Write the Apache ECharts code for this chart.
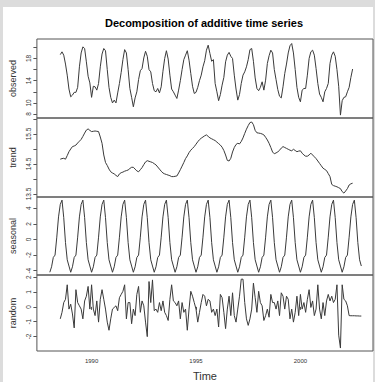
<!DOCTYPE html>
<html><head><meta charset="utf-8">
<script src="https://cdn.jsdelivr.net/npm/echarts@6/dist/echarts.min.js"></script>
<style>
html,body{margin:0;padding:0;background:#dcdcdc;width:375px;height:382px;overflow:hidden}
#paper{position:absolute;left:3px;top:7px;width:370px;height:375px;background:#fff}
#c{position:absolute;left:0;top:0;width:375px;height:382px}
</style>
</head><body><div id="paper"></div><div id="c"></div>
<script>
// ---- data (monthly series) ----
const title = 'Decomposition of additive time series';
const observedStart = [1988, 7];
const observed = [18.7,19.2,18.6,17.0,15.0,12.5,11.1,11.4,11.9,11.9,12.8,16.5,19.0,20.1,19.8,17.4,14.8,13.6,11.0,13.0,12.9,12.3,13.5,16.5,18.8,19.8,19.4,16.0,12.8,11.0,10.0,10.5,10.0,11.8,13.5,15.5,17.8,19.6,19.0,16.0,12.6,11.0,9.3,10.9,12.0,14.2,15.8,16.2,18.1,19.3,18.4,16.0,15.6,13.5,12.2,12.0,12.6,11.8,12.9,15.7,18.0,19.4,17.9,15.0,12.5,12.0,11.4,10.8,12.3,14.0,16.0,17.8,18.6,19.4,17.7,15.3,13.0,11.7,11.9,12.8,14.0,15.0,16.5,17.6,19.5,20.4,18.9,17.5,17.8,13.5,12.0,10.4,11.5,13.2,14.6,17.4,18.6,19.1,18.4,18.0,15.0,12.5,10.5,11.5,13.5,15.0,15.6,16.5,17.8,19.6,19.8,17.5,14.5,12.6,12.2,12.8,13.8,12.3,14.1,17.1,18.5,19.5,19.0,16.0,14.2,12.4,11.2,10.9,12.9,15.3,17.0,19.0,20.3,20.7,19.0,16.0,12.8,11.0,10.2,12.3,12.6,12.6,15.0,18.0,19.2,19.5,18.6,16.2,13.5,11.6,11.0,10.2,12.0,12.6,13.5,17.1,18.6,19.2,18.4,16.0,13.0,7.8,10.4,11.0,11.1,12.0,12.8,14.6,16.1];
const trendStart = [1988, 7];
const trend = [14.66,14.68,14.69,14.66,14.78,14.91,15.00,15.08,15.10,15.13,15.20,15.26,15.32,15.42,15.53,15.63,15.67,15.62,15.58,15.59,15.60,15.59,15.58,15.40,15.19,14.80,14.55,14.45,14.33,14.24,14.20,14.17,14.12,14.08,14.17,14.21,14.23,14.26,14.28,14.30,14.35,14.39,14.39,14.33,14.27,14.24,14.31,14.38,14.48,14.57,14.61,14.59,14.57,14.55,14.51,14.47,14.40,14.33,14.26,14.20,14.17,14.15,14.13,14.11,14.08,14.08,14.09,14.10,14.20,14.31,14.43,14.55,14.68,14.77,14.88,14.96,15.02,15.08,15.16,15.24,15.31,15.36,15.40,15.44,15.47,15.42,15.37,15.34,15.31,15.28,15.23,15.18,15.13,15.06,14.95,14.80,14.62,14.60,14.69,14.90,15.05,15.15,15.19,15.17,15.25,15.37,15.52,15.66,15.78,15.88,15.90,15.81,15.62,15.54,15.53,15.52,15.50,15.47,15.39,15.30,15.19,15.05,14.90,14.84,14.87,14.90,14.96,15.03,15.08,15.05,15.02,14.99,14.96,14.94,14.99,14.95,14.91,14.93,14.94,14.86,14.80,14.76,14.76,14.80,14.86,14.80,14.74,14.68,14.60,14.52,14.44,14.36,14.32,14.28,14.18,14.08,13.82,13.78,13.76,13.74,13.71,13.68,13.58,13.53,13.60,13.68,13.80,13.84,13.86];
const seasonalStart = [1988, 1];
const seasonalPattern = [-4.2,-3.5,-2.3,-2.0,0.3,2.9,4.5,5.05,2.8,-0.4,-2.6,-3.4]; // Jan..Dec, same every year
const seasonalYears = 15;
const randomStart = [1988, 7];
const random = [-0.81,-0.37,0.29,0.51,1.49,-0.15,0.18,
 -0.48,-1.42,1.16,0.29,0.07,-0.15,-0.81,0.40,0.72,1.38,-0.15,1.49,-0.15,-0.59,0.40,-1.03,0.51,
 1.16,0.51,-0.15,-1.03,-1.58,-0.81,-0.15,-0.04,0.07,-0.26,0.62,0.84,1.05,1.49,-0.81,0.29,0.29,-1.14,-0.15,
 -0.59,0.84,1.38,-0.37,0.40,0.07,-1.03,-2.01,1.71,0.29,1.82,-0.26,-0.15,-0.37,0.29,-0.26,0.40,-0.37,
 -0.59,-0.92,0.51,1.49,0.40,0.29,0.07,0.40,-0.81,0.29,-0.37,-0.15,-1.58,-0.15,1.05,0.72,0.29,-0.15,-1.03,-0.37,0.29,0.84,0.72,0.07,0.51,
 0.40,-0.37,-0.15,-0.59,-0.15,-1.36,0.84,0.62,-0.37,-1.47,-0.15,0.72,-0.59,0.95,-0.59,-1.03,-0.15,0.72,1.87,1.87,0.29,-0.81,-1.25,-0.81,-0.15,1.60,0.62,-0.37,
 1.05,0.29,0.07,-0.92,-0.59,-0.15,-0.70,0.84,0.29,0.29,-0.15,0.40,-0.59,0.95,0.72,-0.15,0.72,0.51,
 -0.81,-0.15,-1.03,-0.37,0.72,-0.59,0.84,-0.15,0.29,-0.37,0.51,1.16,-0.04,0.40,-0.59,
 -0.15,1.49,-0.15,-0.81,0.29,-0.59,0.40,0.84,0.40,0.72,0.29,0.51,1.49,-1.91,-2.78,1.49,0.51,0.40,0.07,-0.59,
 -0.60,-0.60,-0.60,-0.61,-0.61,-0.62,-0.62];
const xTicks = [1990, 1995, 2000];
const xLabel = 'Time';
const panelNames = ['observed', 'trend', 'seasonal', 'random'];
const obsTicks = [8,10,12,14,16,18,20], obsLabels = [8,10,14,18];
const trendTicks = [13.5,14,14.5,15,15.5,16], trendLabels = [13.5,14.5,15.5];
const seasTicks = [-4,-2,0,2,4];
const randTicks = [-2,-1,0,1,2];

// ---- build ----
const seasonal = [];
for (let y = 0; y < seasonalYears; y++) seasonal.push(...seasonalPattern);
function toPairs(start, values) {
  return values.map((v, i) => [start[0] + (start[1] - 1 + i) / 12, v]);
}
const FONT = '"Liberation Sans", Arial, Helvetica, sans-serif';
const TXT = '#333', FRAME = '#555';
const plain = v => String(v);
const gridPos = [[39, 79], [118, 79], [197, 78], [275, 78]];
const grids = gridPos.map(([t, h]) => ({left: 35, right: 2, top: t, height: h, show: true,
  borderColor: FRAME, borderWidth: 1, backgroundColor: 'transparent'}));
const xBase = {type: 'value', min: 1987.381, max: 2003.476, splitLine: {show: false}};
const xAxes = [0, 1, 2].map(i => Object.assign({}, xBase, {gridIndex: i, show: false}));
xAxes.push(Object.assign({}, xBase, {gridIndex: 3,
  axisLine: {show: false},
  axisTick: {show: true, length: 3, customValues: xTicks, lineStyle: {color: FRAME}},
  axisLabel: {customValues: xTicks, formatter: plain, fontSize: 6, margin: 7, color: TXT, fontFamily: FONT},
  name: xLabel, nameLocation: 'middle', nameGap: 19,
  nameTextStyle: {fontSize: 11, color: TXT, fontFamily: FONT}}));
function yAx(i, min, max, ticks, labels) {
  return {type: 'value', gridIndex: i, min: min, max: max,
    name: panelNames[i], nameLocation: 'middle', nameRotate: 90, nameGap: 18,
    nameTextStyle: {fontSize: 9, color: TXT, fontFamily: FONT},
    axisLine: {show: false}, splitLine: {show: false},
    axisTick: {show: true, length: 3.5, customValues: ticks, lineStyle: {color: FRAME}},
    axisLabel: {customValues: labels, formatter: plain, rotate: 90, fontSize: 6.5, margin: 5, color: TXT, fontFamily: FONT}};
}
const yAxes = [
  yAx(0, 7.279, 21.514, obsTicks, obsLabels),
  yAx(1, 13.4, 16.033, trendTicks, trendLabels),
  yAx(2, -4.551, 5.449, seasTicks, seasTicks),
  yAx(3, -2.98, 2.151, randTicks, randTicks)
];
const seriesData = [toPairs(observedStart, observed), toPairs(trendStart, trend),
  toPairs(seasonalStart, seasonal), toPairs(randomStart, random)];
const series = seriesData.map((d, i) => ({type: 'line', xAxisIndex: i, yAxisIndex: i, data: d,
  symbol: 'none', silent: true, lineStyle: {width: 1, color: '#3a3a3a'}}));

const chart = echarts.init(document.getElementById('c'), null, {renderer: 'svg'});
chart.setOption({
  animation: false,
  grid: grids, xAxis: xAxes, yAxis: yAxes, series: series,
  graphic: [{type: 'text', x: 204, y: 23, silent: true,
    style: {text: title, x: 0, y: 0, textAlign: 'center', textVerticalAlign: 'middle',
      fill: '#000', font: 'bold 11px ' + FONT}}]
});
</script>
</body></html>
